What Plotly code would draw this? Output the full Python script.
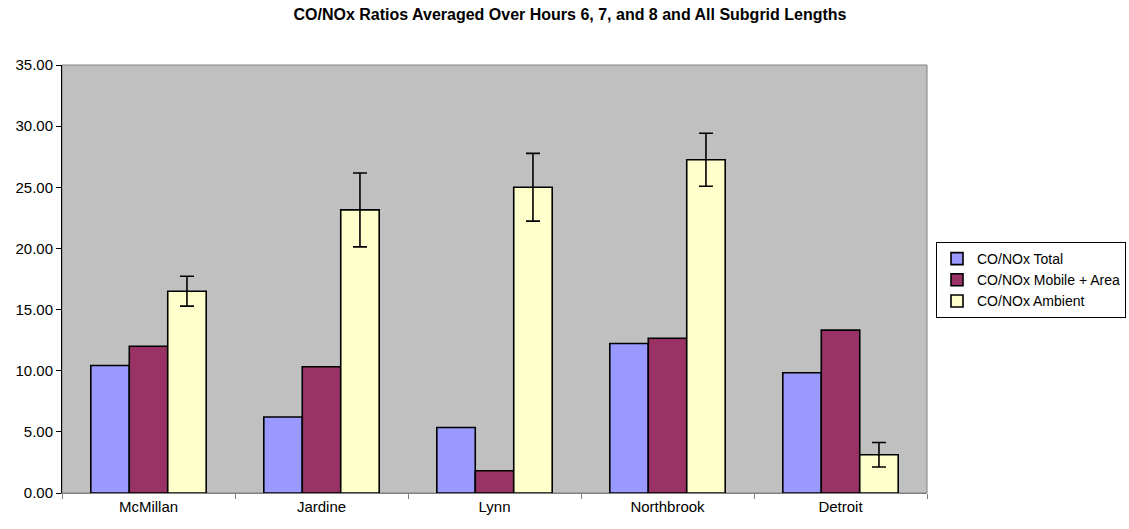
import plotly.graph_objects as go

categories = ["McMillan", "Jardine", "Lynn", "Northbrook", "Detroit"]
series_names = ["CO/NOx Total", "CO/NOx Mobile + Area", "CO/NOx Ambient"]
total = [10.43, 6.21, 5.36, 12.22, 9.83]
mobile_area = [12.00, 10.32, 1.82, 12.66, 13.32]
ambient = [16.50, 23.15, 25.00, 27.25, 3.13]
ambient_err = [1.22, 3.02, 2.77, 2.17, 1.00]
y_ticks = [0, 5, 10, 15, 20, 25, 30, 35]
y_tick_labels = ["%.2f" % v for v in y_ticks]

colors = ["#9999FF", "#993366", "#FFFFCC"]
FONT = "Liberation Sans, Arial, sans-serif"

fig = go.Figure()
for name, vals, col, err in [
    (series_names[0], total, colors[0], None),
    (series_names[1], mobile_area, colors[1], None),
    (series_names[2], ambient, colors[2], ambient_err),
]:
    kw = {}
    if err is not None:
        kw["error_y"] = dict(type="data", array=err, visible=True,
                             color="black", thickness=1.6, width=7)
    fig.add_trace(go.Bar(
        x=categories, y=vals, name=name,
        marker=dict(color=col, line=dict(color="black", width=1.6)),
        **kw,
    ))

W, H = 1129, 529
L, R, T, B = 62, 927, 65, 493

fig.update_layout(
    width=W, height=H,
    margin=dict(l=L, r=W - R, t=T, b=H - B, pad=0, autoexpand=False),
    paper_bgcolor="white",
    plot_bgcolor="#C0C0C0",
    barmode="group",
    bargap=0.333,
    bargroupgap=0,
    font=dict(family=FONT, size=15, color="black"),
    title=dict(
        text="<b>CO/NOx Ratios Averaged Over Hours 6, 7, and 8 and All Subgrid Lengths</b>",
        x=570 / W, xanchor="center", xref="container",
        y=1 - 14 / H, yanchor="middle", yref="container",
        font=dict(family=FONT, size=16, color="black"),
    ),
    legend=dict(
        x=(936 - L) / (R - L), xanchor="left",
        y=(B - 242) / (B - T), yanchor="top",
        bordercolor="black", borderwidth=1,
        bgcolor="white",
        font=dict(family=FONT, size=14, color="black"),
        tracegroupgap=0,
        itemwidth=30,
    ),
    showlegend=True,
)

fig.update_xaxes(
    type="category", automargin=False,
    showline=True, linecolor="#808080", linewidth=1,
    ticks="outside", tickson="boundaries", ticklen=5, tickcolor="#808080",
    showgrid=False, mirror=False,
    tickfont=dict(family=FONT, size=15, color="black"),
)
fig.update_yaxes(
    range=[0, 35], automargin=False,
    tickvals=y_ticks, ticktext=y_tick_labels,
    showline=True, linecolor="black", linewidth=1,
    ticks="outside", ticklen=5, tickcolor="black",
    showgrid=False, zeroline=False,
    tickfont=dict(family=FONT, size=15, color="black"),
)

# plot area border (gray, like the spreadsheet frame)
fig.add_shape(type="rect", xref="paper", yref="paper", x0=0, x1=1, y0=0, y1=1,
              line=dict(color="#808080", width=1), layer="below")

fig.write_html("out.html", config={"displayModeBar": False},
               post_script="document.body.style.margin='0';")
